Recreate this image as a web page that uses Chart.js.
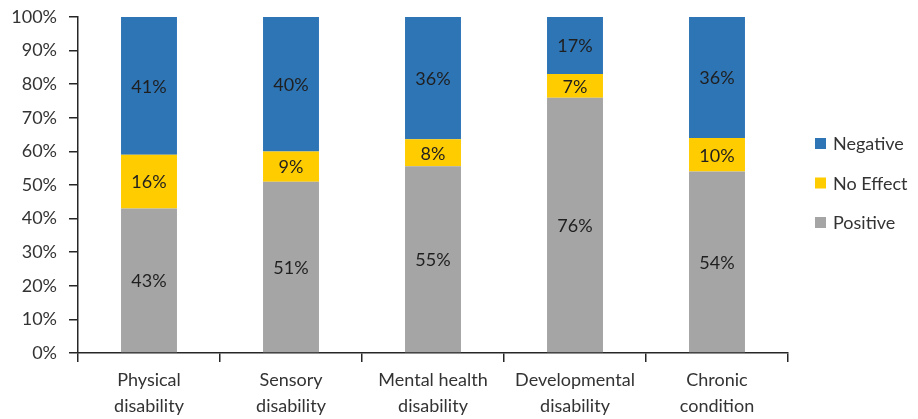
<!DOCTYPE html>
<html>
<head>
<meta charset="utf-8">
<script src="https://cdn.jsdelivr.net/npm/chart.js@4.4.0/dist/chart.umd.min.js"></script>
<style>
  html, body { margin: 0; padding: 0; background: #ffffff; }
  #wrap { width: 918px; height: 419px; }
</style>
</head>
<body>
<div id="wrap"><canvas id="c" width="918" height="419"></canvas></div>
<script>
// ---- data ----
const categories = [
  ["Physical", "disability"],
  ["Sensory", "disability"],
  ["Mental health", "disability"],
  ["Developmental", "disability"],
  ["Chronic", "condition"]
];
const positive = [43, 51, 55, 76, 54];
const noEffect = [16, 9, 8, 7, 10];
const negative = [41, 40, 36, 17, 36];
const yTicks = [0, 10, 20, 30, 40, 50, 60, 70, 80, 90, 100];

// 100% stacked: share of each category total
const totals = categories.map((_, i) => positive[i] + noEffect[i] + negative[i]);
const share = arr => arr.map((v, i) => v / totals[i] * 100);

const FONT = "Lato";
const TEXT = "#333333";

const dataLabels = {
  id: "dataLabels",
  afterDatasetsDraw(chart) {
    const ctx = chart.ctx;
    ctx.save();
    ctx.font = "18px " + FONT;
    ctx.fillStyle = "#1f1f1f";
    ctx.textAlign = "center";
    ctx.textBaseline = "middle";
    chart.data.datasets.forEach((ds, di) => {
      const meta = chart.getDatasetMeta(di);
      meta.data.forEach((el, i) => {
        const yc = (el.y + el.base) / 2;
        ctx.fillText(ds.rawValues[i] + "%", el.x, yc + 1);
      });
    });
    ctx.restore();
  }
};

const sideLegend = {
  id: "sideLegend",
  afterDraw(chart) {
    const ctx = chart.ctx;
    const ds = chart.data.datasets.slice().reverse();
    const x0 = 815, box = 11, gap = 39.5;
    const yMid = 183;
    ctx.save();
    ctx.font = "18px " + FONT;
    ctx.textBaseline = "middle";
    ctx.textAlign = "left";
    ds.forEach((d, k) => {
      const yc = yMid + (k - 1) * gap;
      ctx.fillStyle = d.backgroundColor;
      ctx.fillRect(x0, yc - box / 2, box, box);
      ctx.fillStyle = TEXT;
      ctx.fillText(d.label, x0 + 18, yc + 1);
    });
    ctx.restore();
  }
};

new Chart(document.getElementById("c"), {
  type: "bar",
  data: {
    labels: categories,
    datasets: [
      { label: "Positive", data: share(positive), rawValues: positive, backgroundColor: "#A5A5A5" },
      { label: "No Effect", data: share(noEffect), rawValues: noEffect, backgroundColor: "#FFCC00" },
      { label: "Negative", data: share(negative), rawValues: negative, backgroundColor: "#2E75B6" }
    ]
  },
  options: {
    responsive: false,
    animation: false,
    layout: { padding: { left: 0, right: 130, top: 17, bottom: 0 } },
    datasets: { bar: { barPercentage: 0.394, categoryPercentage: 1, borderWidth: 0 } },
    plugins: { legend: { display: false }, tooltip: { enabled: false } },
    scales: {
      x: {
        stacked: true,
        afterFit(scale) { scale.height = 66; scale.paddingLeft = 0; scale.paddingRight = 0; },
        grid: { drawOnChartArea: false, drawTicks: true, tickLength: 9, color: "#262626", lineWidth: 1.5, offset: true },
        border: { color: "#262626", width: 1.5 },
        ticks: { color: TEXT, font: { family: FONT, size: 18, lineHeight: 1.4 }, padding: 6, maxRotation: 0, autoSkip: false }
      },
      y: {
        stacked: true,
        min: 0, max: 100,
        afterBuildTicks(scale) { scale.ticks = yTicks.map(v => ({ value: v })); },
        afterFit(scale) { scale.width = 78; scale.paddingTop = 0; scale.paddingBottom = 0; },
        grid: { drawOnChartArea: false, drawTicks: true, tickLength: 9, color: "#262626", lineWidth: 1.5 },
        border: { color: "#262626", width: 1.5 },
        ticks: { color: TEXT, font: { family: FONT, size: 18 }, padding: 12, callback: v => v + "%" }
      }
    }
  },
  plugins: [dataLabels, sideLegend]
});
</script>
</body>
</html>
